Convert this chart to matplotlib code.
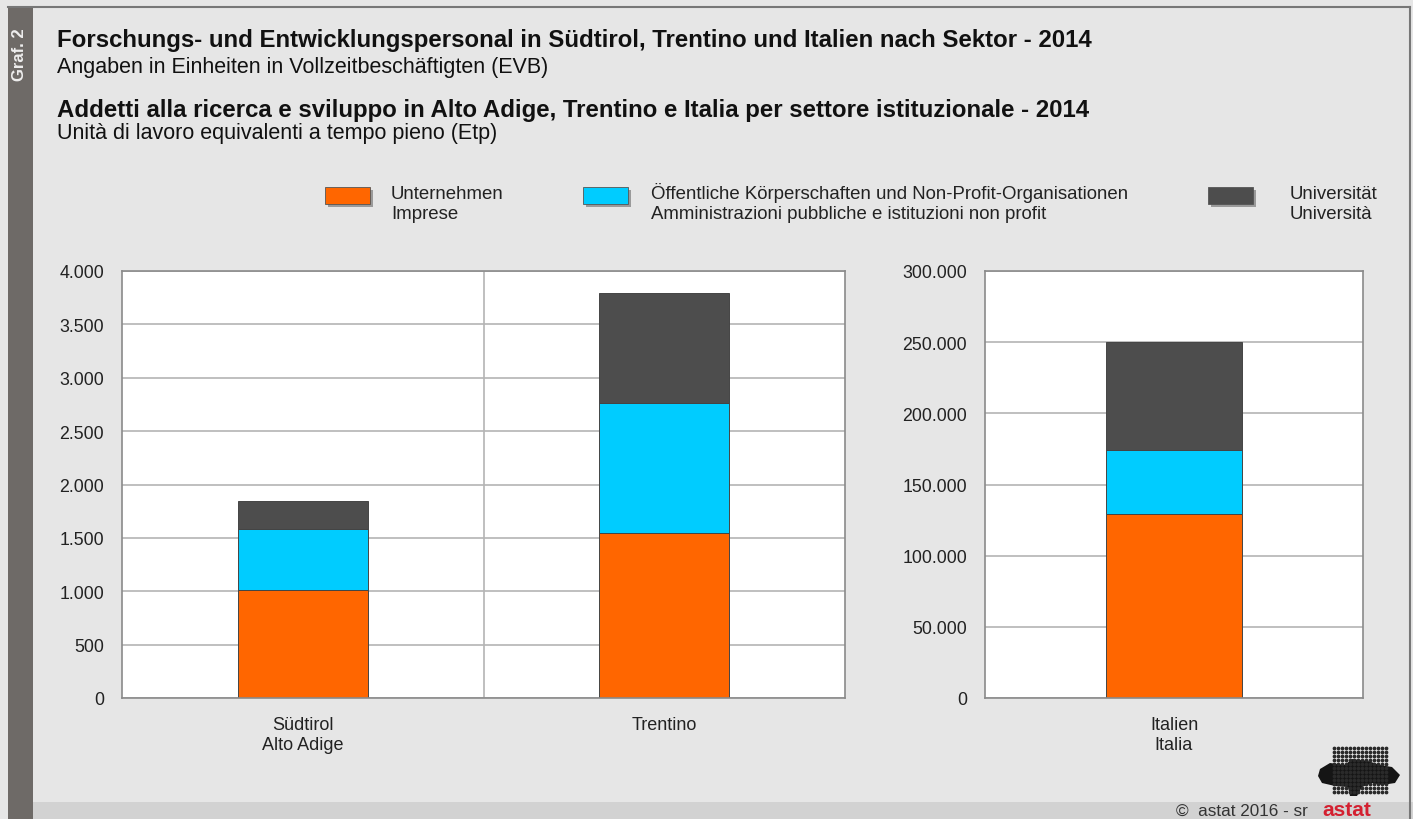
import matplotlib
matplotlib.use("Agg")
import matplotlib.pyplot as plt
from matplotlib.patches import Rectangle, Polygon
from matplotlib.ticker import FuncFormatter, MultipleLocator
import numpy as np

plt.rcParams['font.family'] = ['Liberation Sans', 'DejaVu Sans']

# data (FTE)
regions_small = ["Südtirol\nAlto Adige", "Trentino"]
region_italy = ["Italien\nItalia"]
unternehmen = [1010, 1545]
oeffentlich = [572, 1221]
universitaet = [263, 1027]
it_unternehmen = [129000]
it_oeffentlich = [45000]
it_universitaet = [76000]

series_labels = ["Unternehmen\nImprese",
                 "Öffentliche Körperschaften und Non-Profit-Organisationen\nAmministrazioni pubbliche e istituzioni non profit",
                 "Universität\nUniversità"]
colors = ["#ff6600", "#00ccff", "#4d4d4d"]

W, H = 1413, 820
fig = plt.figure(figsize=(W / 100, H / 100), dpi=100)
fig.patch.set_facecolor("#e6e6e6")

def px(x, y):
    return x / W, 1 - y / H

# frame pieces
fig.add_artist(Rectangle(px(8, 820), 25 / W, 812 / H, transform=fig.transFigure,
                         facecolor="#6e6a67", edgecolor="none"))
fig.add_artist(Rectangle(px(33, 820), (W - 33) / W, 17 / H, transform=fig.transFigure,
                         facecolor="#d2d2d2", edgecolor="none"))
fig.add_artist(plt.Line2D([8 / W, 1410 / W], [1 - 8 / H, 1 - 8 / H], transform=fig.transFigure,
                          color="#777777", lw=1.5))
fig.add_artist(plt.Line2D([1410 / W, 1410 / W], [0, 1 - 8 / H], transform=fig.transFigure,
                          color="#777777", lw=1.5))
fig.text(*px(20, 55), "Graf. 2", rotation=90, color="#eeeeee", fontsize=12, fontweight="bold",
         ha="center", va="center")

# titles
fig.text(*px(57, 47), "Forschungs- und Entwicklungspersonal in Südtirol, Trentino und Italien nach Sektor - 2014",
         fontsize=17.3, fontweight="bold", va="baseline", color="#111111")
fig.text(*px(57, 73), "Angaben in Einheiten in Vollzeitbeschäftigten (EVB)",
         fontsize=15.5, va="baseline", color="#111111")
fig.text(*px(57, 117), "Addetti alla ricerca e sviluppo in Alto Adige, Trentino e Italia per settore istituzionale - 2014",
         fontsize=17.3, fontweight="bold", va="baseline", color="#111111")
fig.text(*px(57, 139), "Unità di lavoro equivalenti a tempo pieno (Etp)",
         fontsize=15.5, va="baseline", color="#111111")

# legend
leg_x = [325, 583, 1208]
txt_x = [391, 651, 1290]
for i in range(3):
    fig.add_artist(Rectangle(px(leg_x[i] + 3, 208), 45 / W, 17 / H, transform=fig.transFigure,
                             facecolor="#9a9a9a", edgecolor="none"))
    fig.add_artist(Rectangle(px(leg_x[i], 205), 45 / W, 17 / H, transform=fig.transFigure,
                             facecolor=colors[i], edgecolor="#555555", lw=0.6))
    fig.text(*px(txt_x[i], 219), series_labels[i], fontsize=13.4, va="baseline", color="#222222",
             linespacing=1.2)

fmt = FuncFormatter(lambda v, p: f"{int(v):,}".replace(",", "."))

def style(ax):
    ax.set_facecolor("white")
    ax.yaxis.grid(True, color="#b4b4b4", lw=1.2)
    ax.set_axisbelow(True)
    for s in ax.spines.values():
        s.set_color("#8a8a8a")
        s.set_linewidth(1.2)
    ax.tick_params(axis="y", length=0, labelsize=12.8, colors="#222222", pad=13)
    ax.tick_params(axis="x", length=0, labelsize=13, colors="#222222", pad=13)
    ax.yaxis.set_major_formatter(fmt)

# left axes
ax1 = fig.add_axes([122 / W, 121 / H, 723 / W, 427 / H])
x1 = np.arange(len(regions_small))
b1 = np.array(unternehmen)
b2 = b1 + np.array(oeffentlich)
ax1.bar(x1, unternehmen, width=0.36, color=colors[0], edgecolor="#444444", lw=0.7)
ax1.bar(x1, oeffentlich, bottom=b1, width=0.36, color=colors[1], edgecolor="#444444", lw=0.7)
ax1.bar(x1, universitaet, bottom=b2, width=0.36, color=colors[2], edgecolor="#444444", lw=0.7)
ax1.axvline(0.5, color="#b4b4b4", lw=1.2, zorder=0.5)
ax1.set_xlim(-0.5, 1.5)
ax1.set_ylim(0, 4000)
ax1.yaxis.set_major_locator(MultipleLocator(500))
ax1.set_xticks(x1)
ax1.set_xticklabels(regions_small)
style(ax1)

# right axes
ax2 = fig.add_axes([985 / W, 121 / H, 378 / W, 427 / H])
x2 = np.arange(len(region_italy))
c1 = np.array(it_unternehmen)
c2 = c1 + np.array(it_oeffentlich)
ax2.bar(x2, it_unternehmen, width=0.36, color=colors[0], edgecolor="#444444", lw=0.7)
ax2.bar(x2, it_oeffentlich, bottom=c1, width=0.36, color=colors[1], edgecolor="#444444", lw=0.7)
ax2.bar(x2, it_universitaet, bottom=c2, width=0.36, color=colors[2], edgecolor="#444444", lw=0.7)
ax2.set_xlim(-0.5, 0.5)
ax2.set_ylim(0, 300000)
ax2.yaxis.set_major_locator(MultipleLocator(50000))
ax2.set_xticks(x2)
ax2.set_xticklabels(region_italy)
style(ax2)
for ax in (ax1, ax2):
    for lab in ax.get_xticklabels():
        lab.set_linespacing(1.2)

# footer
fig.text(*px(1176, 816), "©  astat 2016 - sr", fontsize=12.3, va="baseline", color="#333333")
fig.text(*px(1322, 816), "astat", fontsize=15, fontweight="bold", va="baseline", color="#d42030")

# logo: dotted block with dark map shape
gx, gy = np.meshgrid(np.arange(1334, 1387, 4), np.arange(749, 797, 4))
fig.add_artist(plt.Line2D(gx.ravel() / W, 1 - gy.ravel() / H, transform=fig.transFigure,
                          ls="none", marker="o", ms=1.7, color="#2a2a2a"))
shape = [(1320, 770), (1330, 764), (1345, 766), (1352, 760), (1368, 762), (1380, 766),
         (1392, 768), (1400, 776), (1395, 784), (1382, 786), (1372, 784), (1362, 788),
         (1357, 797), (1350, 797), (1348, 788), (1335, 787), (1322, 784), (1318, 777)]
fig.add_artist(Polygon([px(a, b) for a, b in shape], closed=True, transform=fig.transFigure,
                       facecolor="#151515", edgecolor="none"))

fig.savefig("out.png", dpi=100, facecolor=fig.get_facecolor())
